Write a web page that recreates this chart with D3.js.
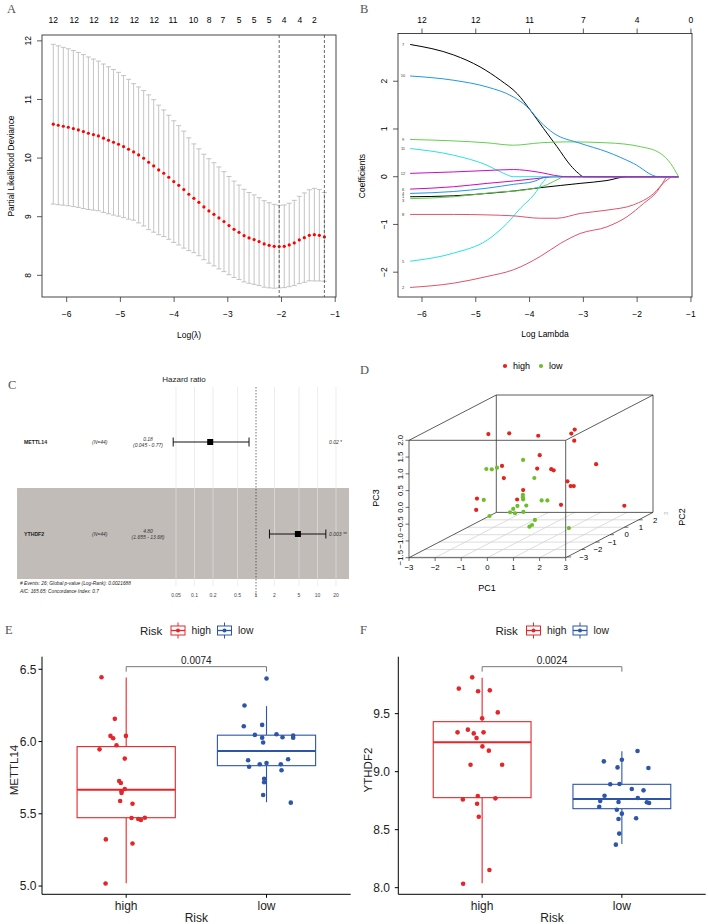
<!DOCTYPE html>
<html><head><meta charset="utf-8">
<script src="https://cdn.jsdelivr.net/npm/d3@7"></script>
<style>body{margin:0;background:#fff}svg{display:block}</style>
</head><body>
<svg id="c" width="708" height="924"></svg>
<script>
// ================= DATA =================
// Panel A: cross-validation curve
const cvLogLambda = [-6.250,-6.157,-6.063,-5.970,-5.876,-5.783,-5.689,-5.596,-5.502,-5.409,-5.315,-5.222,-5.128,-5.035,-4.941,-4.848,-4.754,-4.661,-4.567,-4.474,-4.380,-4.287,-4.193,-4.100,-4.006,-3.913,-3.819,-3.726,-3.632,-3.539,-3.445,-3.352,-3.258,-3.165,-3.071,-2.978,-2.884,-2.791,-2.697,-2.604,-2.510,-2.417,-2.323,-2.230,-2.136,-2.043,-1.949,-1.856,-1.762,-1.669,-1.575,-1.482,-1.388,-1.295,-1.201];
const cvMean = [10.578,10.560,10.543,10.526,10.504,10.481,10.452,10.424,10.401,10.378,10.339,10.304,10.270,10.236,10.196,10.151,10.105,10.054,9.997,9.929,9.866,9.798,9.741,9.673,9.599,9.536,9.462,9.383,9.314,9.246,9.166,9.098,9.041,8.979,8.916,8.848,8.785,8.734,8.677,8.638,8.609,8.575,8.535,8.512,8.495,8.490,8.495,8.518,8.552,8.603,8.643,8.683,8.694,8.683,8.655];
const cvSD = [1.363,1.355,1.347,1.339,1.331,1.322,1.313,1.301,1.289,1.277,1.266,1.254,1.242,1.227,1.211,1.193,1.165,1.160,1.155,1.150,1.130,1.105,1.080,1.058,1.038,1.018,0.998,0.962,0.928,0.912,0.900,0.891,0.880,0.869,0.853,0.838,0.822,0.806,0.790,0.775,0.763,0.750,0.738,0.726,0.715,0.704,0.705,0.712,0.727,0.745,0.762,0.777,0.790,0.780,0.757];
const cvNonzeroPos = [-6.25,-5.86,-5.49,-5.12,-4.74,-4.37,-4.02,-3.64,-3.35,-3.09,-2.79,-2.51,-2.23,-1.95,-1.66,-1.39];
const cvNonzeroLabels = ["12","12","12","12","12","12","11","10","8","7","5","5","5","4","4","2"];
const cvLambdaMin = -2.043;
const cvLambda1se = -1.201;
const logLambdaTicks = [-6,-5,-4,-3,-2,-1];
const devianceTicks = [8,9,10,11,12];

// Panel B: coefficient paths [logLambda, coefficient]
const coefPath1 = [[-6.22,-0.42],[-5.41,-0.40],[-4.79,-0.35],[-4.30,-0.30],[-3.80,-0.23],[-3.06,-0.14],[-2.56,-0.08],[-2.19,0],[-1.23,0]];
const coefPath2 = [[-6.22,-2.32],[-5.41,-2.23],[-4.79,-2.09],[-4.30,-1.95],[-3.80,-1.67],[-3.43,-1.40],[-3.06,-1.19],[-2.56,-1.05],[-2.19,-0.84],[-1.88,-0.56],[-1.63,-0.31],[-1.49,-0.07],[-1.45,0],[-1.23,0]];
const coefPath3 = [[-6.22,-0.46],[-5.41,-0.42],[-4.67,-0.33],[-4.05,-0.27],[-3.68,-0.17],[-3.43,-0.03],[-3.37,0],[-1.23,0]];
const coefPath4 = [[-6.22,-0.35],[-5.41,-0.31],[-4.79,-0.24],[-4.30,-0.16],[-3.92,-0.10],[-3.68,0],[-1.23,0]];
const coefPath5 = [[-6.22,-1.77],[-5.41,-1.60],[-4.79,-1.33],[-4.42,-0.98],[-4.17,-0.66],[-3.92,-0.38],[-3.74,-0.10],[-3.65,0],[-1.23,0]];
const coefPath6 = [[-6.22,-0.26],[-5.41,-0.21],[-4.79,-0.14],[-4.30,-0.09],[-3.80,-0.03],[-3.55,0],[-1.23,0]];
const coefPath7 = [[-6.22,2.77],[-5.41,2.55],[-4.92,2.30],[-4.54,2.02],[-4.23,1.74],[-3.99,1.40],[-3.74,1.01],[-3.49,0.63],[-3.24,0.24],[-3.09,0.07],[-3.00,0],[-1.23,0]];
const coefPath8 = [[-6.22,-0.79],[-5.41,-0.79],[-4.79,-0.80],[-4.30,-0.82],[-3.80,-0.87],[-3.49,-0.87],[-3.06,-0.77],[-2.56,-0.70],[-2.07,-0.59],[-1.69,-0.35],[-1.48,-0.10],[-1.32,0],[-1.23,0]];
const coefPath9 = [[-6.22,0.78],[-5.41,0.75],[-4.79,0.71],[-4.30,0.66],[-3.80,0.71],[-3.31,0.73],[-2.56,0.71],[-1.94,0.63],[-1.57,0.49],[-1.38,0.28],[-1.23,0]];
const coefPath10 = [[-6.22,2.11],[-5.41,2.02],[-4.79,1.88],[-4.30,1.67],[-4.05,1.47],[-3.80,1.15],[-3.55,0.91],[-3.06,0.70],[-2.56,0.52],[-2.07,0.28],[-1.60,0],[-1.23,0]];
const coefPath11 = [[-6.22,0.59],[-5.41,0.45],[-4.79,0.24],[-4.48,0.07],[-4.30,0],[-1.23,0]];
const coefPath12 = [[-6.22,0.07],[-5.41,0.10],[-4.79,0.13],[-4.30,0.15],[-3.86,0.10],[-3.43,0.01],[-3.31,0],[-1.23,0]];
const coefDfLabels = ["12","12","11","7","4","0"];
const coefTicks = [-2,-1,0,1,2];

// Panel C: forest plot
const forestVars = ["METTL14","YTHDF2"];
const forestN = ["(N=44)","(N=44)"];
const forestHR = [0.18, 4.80];
const forestLow = [0.045, 1.655];
const forestHigh = [0.77, 13.68];
const forestHRText = ["0.18","4.80"];
const forestCIText = ["(0.045 - 0.77)","(1.655 - 13.68)"];
const forestP = ["0.02 *","0.003 **"];
const forestTicks = [0.05,0.1,0.2,0.5,1,2,5,10,20];
const forestTickLabels = ["0.05","0.1","0.2","0.5","1","2","5","10","20"];
const forestFooter = ["# Events: 26; Global p-value (Log-Rank): 0.0021688","AIC: 165.65; Concordance Index: 0.7"];

// Panel D: PCA 3D
const highPC1 = [-1.66,-1.41,0.25,0.55,0.42,1.08,-0.24,-0.59,0.21,0.20,0.84,-0.52,1.37,0.82,1.49,1.61,0.22,-1.00,-0.01,1.67,2.45,-1.03];
const highPC2 = [0,1,0,2,2,1,1,-1,0,1,0,-1,2,1,0,0,-1,-2,-1,-1,2,-2];
const highPC3 = [1.50,1.30,1.45,1.19,1.07,1.08,0.65,0.77,0.47,0.23,0.42,0.41,0.16,-0.13,-0.05,-0.05,0.05,0.02,-0.23,-0.39,-1.08,-0.32];
const lowPC1 = [-0.33,-1.19,-0.98,-0.78,0.10,-0.74,0.21,0.21,0.22,0.00,0.34,0.38,0.60,-0.16,-0.28,-0.09,0.23,-0.52,0.67,0.56,0.46,2.52];
const lowPC2 = [0,-1,-1,-1,0,-2,-1,-1,-1,-1,-1,0,0,-1,-1,-1,-1,-2,-1,-1,-1,-2];
const lowPC3 = [0.73,0.68,0.67,0.72,0.19,-0.02,-0.09,-0.16,-0.23,-0.42,-0.41,-0.48,-0.48,-0.51,-0.61,-0.64,-0.60,-0.50,-0.84,-0.99,-1.04,-0.86];
const pc1Ticks = [-3,-2,-1,0,1,2,3];
const pc2Ticks = [-3,-2,-1,0,1,2];
const pc3Ticks = [-1.5,-1.0,-0.5,0.0,0.5,1.0,1.5,2.0];

// Panel E / F: boxplots
const riskGroups = ["high","low"];
const mettl14High = [6.445,6.157,6.039,6.023,6.039,5.974,5.946,5.882,5.727,5.713,5.672,5.656,5.644,5.589,5.570,5.471,5.464,5.457,5.473,5.323,5.295,5.018];
const mettl14HighJit = [-0.176,-0.081,-0.112,-0.093,-0.002,-0.069,-0.190,-0.010,-0.050,-0.038,-0.010,-0.033,-0.033,-0.043,0.045,0.038,0.086,0.105,0.133,-0.145,0.045,-0.147];
const mettl14Low = [6.436,6.249,6.106,6.115,6.046,6.027,6.050,6.030,6.041,6.027,5.993,5.870,5.826,5.843,5.852,5.843,5.877,5.801,5.743,5.718,5.630,5.577];
const mettl14LowJit = [0.000,-0.157,-0.162,-0.031,-0.083,-0.031,0.071,0.114,0.190,0.190,-0.024,-0.131,-0.124,-0.048,0.000,0.102,0.154,0.107,-0.017,-0.017,-0.024,0.173];
const mettl14Box = [[5.019,5.473,5.667,5.965,6.443],[5.580,5.833,5.935,6.044,6.245]];
const mettl14Ticks = [5.0,5.5,6.0,6.5];
const mettl14P = "0.0074";

const ythdf2High = [9.813,9.716,9.693,9.701,9.511,9.460,9.339,9.362,9.330,9.339,9.290,9.218,9.181,9.060,9.060,8.790,8.761,8.770,8.724,8.612,8.152,8.034];
const ythdf2HighJit = [-0.071,-0.167,-0.029,0.055,0.112,0.000,-0.176,-0.102,-0.060,0.010,-0.040,0.002,0.048,-0.083,0.143,-0.031,-0.138,0.095,-0.036,-0.024,0.052,-0.136];
const ythdf2Low = [9.089,9.178,9.103,9.037,9.032,8.891,8.894,8.851,8.839,8.793,8.773,8.747,8.739,8.736,8.730,8.698,8.672,8.638,8.592,8.598,8.466,8.371];
const ythdf2LowJit = [-0.129,0.112,0.000,-0.031,0.190,-0.083,-0.017,0.071,0.155,-0.124,0.114,-0.155,-0.024,0.179,0.195,-0.162,-0.036,0.000,-0.024,0.102,-0.019,-0.043];
const ythdf2Box = [[8.038,8.776,9.253,9.431,9.810],[8.377,8.681,8.765,8.891,9.175]];
const ythdf2Ticks = [8.0,8.5,9.0,9.5];
const ythdf2P = "0.0024";

// ================= DRAWING =================
const svg = d3.select("#c");
const SANS = "'Liberation Sans', Arial, Helvetica, sans-serif";
const SERIF = "'Liberation Serif', 'Times New Roman', serif";
const rPal = ["#000000","#DF536B","#61D04F","#2297E6","#28E2E5","#CD0BBC"];
const fmtMinus = v => String(v).replace("-", "\u2212");

function txt(g, x, y, s, size, opts = {}) {
  const t = g.append("text").attr("x", x).attr("y", y).text(s)
    .attr("font-family", opts.family || SANS).attr("font-size", size)
    .attr("fill", opts.fill || "#000")
    .attr("text-anchor", opts.anchor || "start");
  if (opts.weight) t.attr("font-weight", opts.weight);
  if (opts.style) t.attr("font-style", opts.style);
  if (opts.rotate !== undefined) t.attr("transform", `rotate(${opts.rotate},${x},${y})`);
  return t;
}

// panel letters
[["A",7,13],["B",360,13],["C",8,389],["D",360,374],["E",5,634],["F",360,634]].forEach(([l,x,y]) =>
  txt(svg, x, y, l, 12.5, {family: SERIF, fill: "#555"}));

// ---------- Panel A ----------
(function(){
  const g = svg.append("g");
  const x = d3.scaleLinear().domain([-6.46,-0.985]).range([42,336]);
  const y = d3.scaleLinear().domain([7.63,12.10]).range([297,35]);
  const idx = d3.range(cvLogLambda.length);
  const bars = g.append("g").attr("stroke", "#bdbdbd").attr("stroke-width", 0.9);
  bars.selectAll("line.v").data(idx).join("line")
    .attr("x1", i => x(cvLogLambda[i])).attr("x2", i => x(cvLogLambda[i]))
    .attr("y1", i => y(cvMean[i] + cvSD[i])).attr("y2", i => y(cvMean[i] - cvSD[i]));
  bars.selectAll("line.ct").data(idx).join("line").attr("class","ct")
    .attr("x1", i => x(cvLogLambda[i]) - 2.5).attr("x2", i => x(cvLogLambda[i]) + 2.5)
    .attr("y1", i => y(cvMean[i] + cvSD[i])).attr("y2", i => y(cvMean[i] + cvSD[i]));
  bars.selectAll("line.cb").data(idx).join("line").attr("class","cb")
    .attr("x1", i => x(cvLogLambda[i]) - 2.5).attr("x2", i => x(cvLogLambda[i]) + 2.5)
    .attr("y1", i => y(cvMean[i] - cvSD[i])).attr("y2", i => y(cvMean[i] - cvSD[i]));
  g.selectAll("circle").data(idx).join("circle")
    .attr("cx", i => x(cvLogLambda[i])).attr("cy", i => y(cvMean[i])).attr("r", 1.6).attr("fill", "#FF0000");
  [cvLambdaMin, cvLambda1se].forEach(v =>
    g.append("line").attr("x1", x(v)).attr("x2", x(v)).attr("y1", 35).attr("y2", 297)
      .attr("stroke", "#444").attr("stroke-width", 0.8).attr("stroke-dasharray", "3,2"));
  g.append("rect").attr("x", 42).attr("y", 35).attr("width", 294).attr("height", 262)
    .attr("fill", "none").attr("stroke", "#333").attr("stroke-width", 0.9);
  logLambdaTicks.forEach(v => {
    g.append("line").attr("x1", x(v)).attr("x2", x(v)).attr("y1", 297).attr("y2", 302).attr("stroke", "#333").attr("stroke-width",0.8);
    txt(g, x(v), 317, fmtMinus(v), 8.5, {anchor: "middle"});
  });
  devianceTicks.forEach(v => {
    g.append("line").attr("x1", 42).attr("x2", 37).attr("y1", y(v)).attr("y2", y(v)).attr("stroke", "#333").attr("stroke-width",0.8);
    txt(g, 31, y(v), String(v), 8.5, {anchor: "middle", rotate: -90});
  });
  cvNonzeroPos.forEach((p, i) => txt(g, x(p), 23, cvNonzeroLabels[i], 8.5, {anchor: "middle"}));
  txt(g, 14, 166, "Partial Likelihood Deviance", 8.4, {anchor: "middle", rotate: -90});
  txt(g, 189, 338, "Log(\u03BB)", 8.5, {anchor: "middle"});
})();

// ---------- Panel B ----------
(function(){
  const g = svg.append("g");
  const x = d3.scaleLinear().domain([-6.446,-0.98]).range([398,692]);
  const y = d3.scaleLinear().domain([-2.52,3.0]).range([297,33.5]);
  const paths = [coefPath1,coefPath2,coefPath3,coefPath4,coefPath5,coefPath6,coefPath7,coefPath8,coefPath9,coefPath10,coefPath11,coefPath12];
  const line = d3.line().x(d => x(d[0])).y(d => y(d[1])).curve(d3.curveMonotoneX);
  g.selectAll("path.c").data(paths).join("path").attr("class","c")
    .attr("d", line).attr("fill", "none").attr("stroke-width", 1)
    .attr("stroke", (d, i) => rPal[i % 6]);
  // variable index labels at the left end, nudged apart where they crowd
  const labs = paths.map((p, i) => ({lab: String(i + 1), y: y(p[0][1])})).sort((a, b) => a.y - b.y);
  for (let k = 1; k < labs.length; k++) if (labs[k].y - labs[k - 1].y < 3.4) labs[k].y = labs[k - 1].y + 3.4;
  labs.forEach(d => txt(g, 403, d.y + 1.4, d.lab, 4, {anchor: "middle", fill: "#333"}));
  g.append("rect").attr("x", 398).attr("y", 33.5).attr("width", 294).attr("height", 263.5)
    .attr("fill", "none").attr("stroke", "#333").attr("stroke-width", 0.9);
  logLambdaTicks.forEach((v, i) => {
    g.append("line").attr("x1", x(v)).attr("x2", x(v)).attr("y1", 297).attr("y2", 302).attr("stroke", "#333").attr("stroke-width",0.8);
    g.append("line").attr("x1", x(v)).attr("x2", x(v)).attr("y1", 33.5).attr("y2", 28.5).attr("stroke", "#333").attr("stroke-width",0.8);
    txt(g, x(v), 317, fmtMinus(v), 8.5, {anchor: "middle"});
    txt(g, x(v), 23, coefDfLabels[i], 8.5, {anchor: "middle"});
  });
  coefTicks.forEach(v => {
    g.append("line").attr("x1", 398).attr("x2", 393).attr("y1", y(v)).attr("y2", y(v)).attr("stroke", "#333").attr("stroke-width",0.8);
    txt(g, 387, y(v), fmtMinus(v), 8.5, {anchor: "middle", rotate: -90});
  });
  txt(g, 365, 176, "Coefficients", 8.5, {anchor: "middle", rotate: -90});
  txt(g, 545, 337, "Log Lambda", 8.5, {anchor: "middle"});
})();

// ---------- Panel C ----------
(function(){
  const g = svg.append("g");
  const x = d3.scaleLog().domain([0.05, 20]).range([176, 336]);
  const rowY = [442, 534];
  g.append("rect").attr("x", 17).attr("y", 488).attr("width", 332).attr("height", 91).attr("fill", "#c1bcb8");
  g.selectAll("line.grid").data(forestTicks.filter(t => t !== 1)).join("line").attr("class","grid")
    .attr("x1", d => x(d)).attr("x2", d => x(d)).attr("y1", 387).attr("y2", 586)
    .attr("stroke", "#e4e4e4").attr("stroke-width", 0.7).attr("opacity", 0.9);
  g.append("line").attr("x1", x(1)).attr("x2", x(1)).attr("y1", 387).attr("y2", 597)
    .attr("stroke", "#333").attr("stroke-width", 0.7).attr("stroke-dasharray", "1.5,1.5");
  txt(g, 184, 382, "Hazard ratio", 8, {anchor: "middle", fill: "#222"});
  forestVars.forEach((v, i) => {
    const yy = rowY[i];
    txt(g, 24, yy + 2, v, 5.2, {weight: "bold", fill: "#222"});
    txt(g, 92, yy + 2, forestN[i], 5, {style: "italic", fill: "#333"});
    txt(g, 148, yy - 1.5, forestHRText[i], 5, {anchor: "middle", style: "italic", fill: "#333"});
    txt(g, 148, yy + 4.5, forestCIText[i], 5, {anchor: "middle", style: "italic", fill: "#333"});
    txt(g, 329, yy + 2, forestP[i], 5, {style: "italic", fill: "#333"});
    g.append("line").attr("x1", x(forestLow[i])).attr("x2", x(forestHigh[i])).attr("y1", yy).attr("y2", yy).attr("stroke", "#111").attr("stroke-width", 1);
    [forestLow[i], forestHigh[i]].forEach(e =>
      g.append("line").attr("x1", x(e)).attr("x2", x(e)).attr("y1", yy - 4.5).attr("y2", yy + 4.5).attr("stroke", "#111").attr("stroke-width", 1));
    g.append("rect").attr("x", x(forestHR[i]) - 3).attr("y", yy - 3).attr("width", 6).attr("height", 6).attr("fill", "#000");
  });
  forestFooter.forEach((s, i) => txt(g, 20, 585 + i * 8, s, 4.8, {style: "italic", fill: "#222"}));
  forestTicks.forEach((t, i) => txt(g, x(t), 597, forestTickLabels[i], 5, {anchor: "middle", fill: "#444"}));
})();

// ---------- Panel D ----------
(function(){
  const g = svg.append("g");
  const xs = d3.scaleLinear().domain([-3, 3]).range([409, 565.7]);
  const zs = d3.scaleLinear().domain([-1.5, 2]).range([557.7, 440.3]);
  const fy = d3.scaleLinear().domain([-3.1, 3.0]).range([0, 1]);
  const DX = 87.3, DY = -45.3;
  const P = (a, b, c) => [xs(a) + fy(b) * DX, zs(c) + fy(b) * DY];
  const grid = g.append("g").attr("stroke", "#cfcfcf").attr("stroke-width", 0.7);
  pc1Ticks.slice(1, -1).forEach(v => {
    const p0 = P(v, -3.1, -1.5), p1 = P(v, 3.0, -1.5);
    grid.append("line").attr("x1", p0[0]).attr("y1", p0[1]).attr("x2", p1[0]).attr("y2", p1[1]);
  });
  pc2Ticks.forEach(v => {
    const p0 = P(-3, v, -1.5), p1 = P(3, v, -1.5);
    grid.append("line").attr("x1", p0[0]).attr("y1", p0[1]).attr("x2", p1[0]).attr("y2", p1[1]);
  });
  const c = [];
  [-3, 3].forEach(a => [-3.1, 3.0].forEach(b => [-1.5, 2].forEach(cc => c.push([a, b, cc]))));
  const edges = [];
  for (let i = 0; i < c.length; i++) for (let j = i + 1; j < c.length; j++) {
    const diff = [0, 1, 2].filter(k => c[i][k] !== c[j][k]).length;
    if (diff === 1) edges.push([c[i], c[j]]);
  }
  g.selectAll("line.edge").data(edges).join("line").attr("class", "edge")
    .attr("x1", d => P(...d[0])[0]).attr("y1", d => P(...d[0])[1])
    .attr("x2", d => P(...d[1])[0]).attr("y2", d => P(...d[1])[1])
    .attr("stroke", "#333").attr("stroke-width", 0.8);
  const high = highPC1.map((v, i) => [v, highPC2[i], highPC3[i]]);
  const low = lowPC1.map((v, i) => [v, lowPC2[i], lowPC3[i]]);
  g.selectAll("circle.h").data(high).join("circle").attr("class", "h")
    .attr("cx", d => P(...d)[0]).attr("cy", d => P(...d)[1]).attr("r", 2.1).attr("fill", "#E3231D");
  g.selectAll("circle.l").data(low).join("circle").attr("class", "l")
    .attr("cx", d => P(...d)[0]).attr("cy", d => P(...d)[1]).attr("r", 2.1).attr("fill", "#6CBE2B");
  pc1Ticks.forEach(v => {
    g.append("line").attr("x1", xs(v)).attr("x2", xs(v)).attr("y1", 557.7).attr("y2", 561).attr("stroke", "#333").attr("stroke-width", 0.7);
    txt(g, xs(v), 569.5, fmtMinus(v), 7.8, {anchor: "middle"});
  });
  pc3Ticks.forEach(v => {
    g.append("line").attr("x1", 409).attr("x2", 405.5).attr("y1", zs(v)).attr("y2", zs(v)).attr("stroke", "#333").attr("stroke-width", 0.7);
    txt(g, 403.3, zs(v), fmtMinus(v.toFixed(1)), 7.8, {anchor: "middle", rotate: -90});
  });
  pc2Ticks.forEach(v => {
    const p = P(3, v, -1.5);
    g.append("line").attr("x1", p[0]).attr("x2", p[0] + 4).attr("y1", p[1]).attr("y2", p[1]).attr("stroke", "#333").attr("stroke-width", 0.7);
    txt(g, p[0] + 16.5, p[1] + 2.8, fmtMinus(v), 7.8, {anchor: "middle"});
  });
  const p3 = P(3, 3.0, -1.5);
  txt(g, p3[0] + 15, p3[1] + 1, "3", 5, {anchor: "middle", fill: "#aaa", rotate: -90});
  txt(g, 379, 498, "PC3", 9, {anchor: "middle", rotate: -90});
  txt(g, 487, 591, "PC1", 9, {anchor: "middle"});
  txt(g, 685, 517, "PC2", 9, {anchor: "middle", rotate: -90});
  g.append("circle").attr("cx", 505).attr("cy", 366).attr("r", 2.1).attr("fill", "#E3231D");
  txt(g, 513, 369.3, "high", 9, {});
  g.append("circle").attr("cx", 541).attr("cy", 366).attr("r", 2.1).attr("fill", "#6CBE2B");
  txt(g, 549, 369.3, "low", 9, {});
})();

// ---------- Panels E & F ----------
const RED = "#E4262A", BLUE = "#2D56A8";
function boxPanel(cfg) {
  const g = svg.append("g");
  const x = d3.scaleLinear().domain([0.4, 2.6]).range([cfg.x0, cfg.x1]);
  const y = d3.scaleLinear().domain(cfg.ydom).range([894.3, 656.7]);
  const cols = [RED, BLUE];
  const pts = [cfg.high.map((v, i) => [1 + cfg.highJit[i], v]), cfg.low.map((v, i) => [2 + cfg.lowJit[i], v])];
  riskGroups.forEach((grp, k) => {
    const s = cfg.box[k], cx = x(k + 1), hw = (x(1.35) - x(1));
    const col = cols[k];
    const bg = g.append("g").attr("stroke", col).attr("fill", "none");
    bg.append("line").attr("x1", cx).attr("x2", cx).attr("y1", y(s[4])).attr("y2", y(s[3])).attr("stroke-width", 1.1);
    bg.append("line").attr("x1", cx).attr("x2", cx).attr("y1", y(s[1])).attr("y2", y(s[0])).attr("stroke-width", 1.1);
    bg.append("rect").attr("x", cx - hw).attr("y", y(s[3])).attr("width", 2 * hw).attr("height", y(s[1]) - y(s[3])).attr("fill", "#fff").attr("stroke-width", 1.1);
    bg.append("line").attr("x1", cx - hw).attr("x2", cx + hw).attr("y1", y(s[2])).attr("y2", y(s[2])).attr("stroke-width", 2);
    g.selectAll(null).data(pts[k]).join("circle")
      .attr("cx", d => x(d[0])).attr("cy", d => y(d[1])).attr("r", 2.3).attr("fill", col);
  });
  g.append("line").attr("x1", cfg.x0).attr("x2", cfg.x0).attr("y1", 656.7).attr("y2", 894.3).attr("stroke", "#000").attr("stroke-width", 1);
  g.append("line").attr("x1", cfg.x0).attr("x2", cfg.x1).attr("y1", 894.3).attr("y2", 894.3).attr("stroke", "#000").attr("stroke-width", 1);
  cfg.ticks.forEach(v => {
    g.append("line").attr("x1", cfg.x0).attr("x2", cfg.x0 - 3.5).attr("y1", y(v)).attr("y2", y(v)).attr("stroke", "#000").attr("stroke-width", 1);
    txt(g, cfg.tickLabX, y(v) + 4.3, v.toFixed(1), 12, {anchor: "end", fill: "#222"});
  });
  riskGroups.forEach((grp, k) => {
    g.append("line").attr("x1", x(k + 1)).attr("x2", x(k + 1)).attr("y1", 894.3).attr("y2", 897.8).attr("stroke", "#000").attr("stroke-width", 1);
    txt(g, x(k + 1), 909.5, grp, 12, {anchor: "middle", fill: "#222"});
  });
  txt(g, (x(1) + x(2)) / 2, 922, "Risk", 12, {anchor: "middle", fill: "#222"});
  txt(g, cfg.yLabX, 770, cfg.ylab, 11.5, {anchor: "middle", rotate: -90, fill: "#222"});
  const by = y(cfg.bracketY);
  g.append("path").attr("d", `M${x(1)},${by + 5}V${by}H${x(2)}V${by + 5}`).attr("fill", "none").attr("stroke", "#777").attr("stroke-width", 1);
  txt(g, (x(1) + x(2)) / 2, by - 2.5, cfg.p, 10, {anchor: "middle", fill: "#222"});
  const lx = cfg.legX;
  txt(g, lx, 634.5, "Risk", 11.5, {fill: "#222"});
  [[lx + 31, "high", RED], [lx + 77.5, "low", BLUE]].forEach(([kx, lab, col]) => {
    g.append("line").attr("x1", kx + 7).attr("x2", kx + 7).attr("y1", 622.5).attr("y2", 638.5).attr("stroke", col).attr("stroke-width", 1);
    g.append("rect").attr("x", kx).attr("y", 626).attr("width", 14).attr("height", 9).attr("fill", "#fff").attr("stroke", col).attr("stroke-width", 1);
    g.append("line").attr("x1", kx).attr("x2", kx + 14).attr("y1", 630.5).attr("y2", 630.5).attr("stroke", col).attr("stroke-width", 1.3);
    g.append("circle").attr("cx", kx + 7).attr("cy", 630.5).attr("r", 2).attr("fill", col);
    txt(g, kx + 20.5, 634, lab, 10.3, {fill: "#222"});
  });
}
boxPanel({x0: 42, x1: 350.7, ydom: [4.943, 6.587], high: mettl14High, highJit: mettl14HighJit, low: mettl14Low, lowJit: mettl14LowJit,
  box: mettl14Box, ticks: mettl14Ticks, tickLabX: 36.5, yLabX: 18, ylab: "METTL14", p: mettl14P, bracketY: 6.518, legX: 140});
boxPanel({x0: 398.3, x1: 705.7, ydom: [7.943, 9.991], high: ythdf2High, highJit: ythdf2HighJit, low: ythdf2Low, lowJit: ythdf2LowJit,
  box: ythdf2Box, ticks: ythdf2Ticks, tickLabX: 390, yLabX: 372, ylab: "YTHDF2", p: ythdf2P, bracketY: 9.905, legX: 495.5});
</script>
</body></html>
